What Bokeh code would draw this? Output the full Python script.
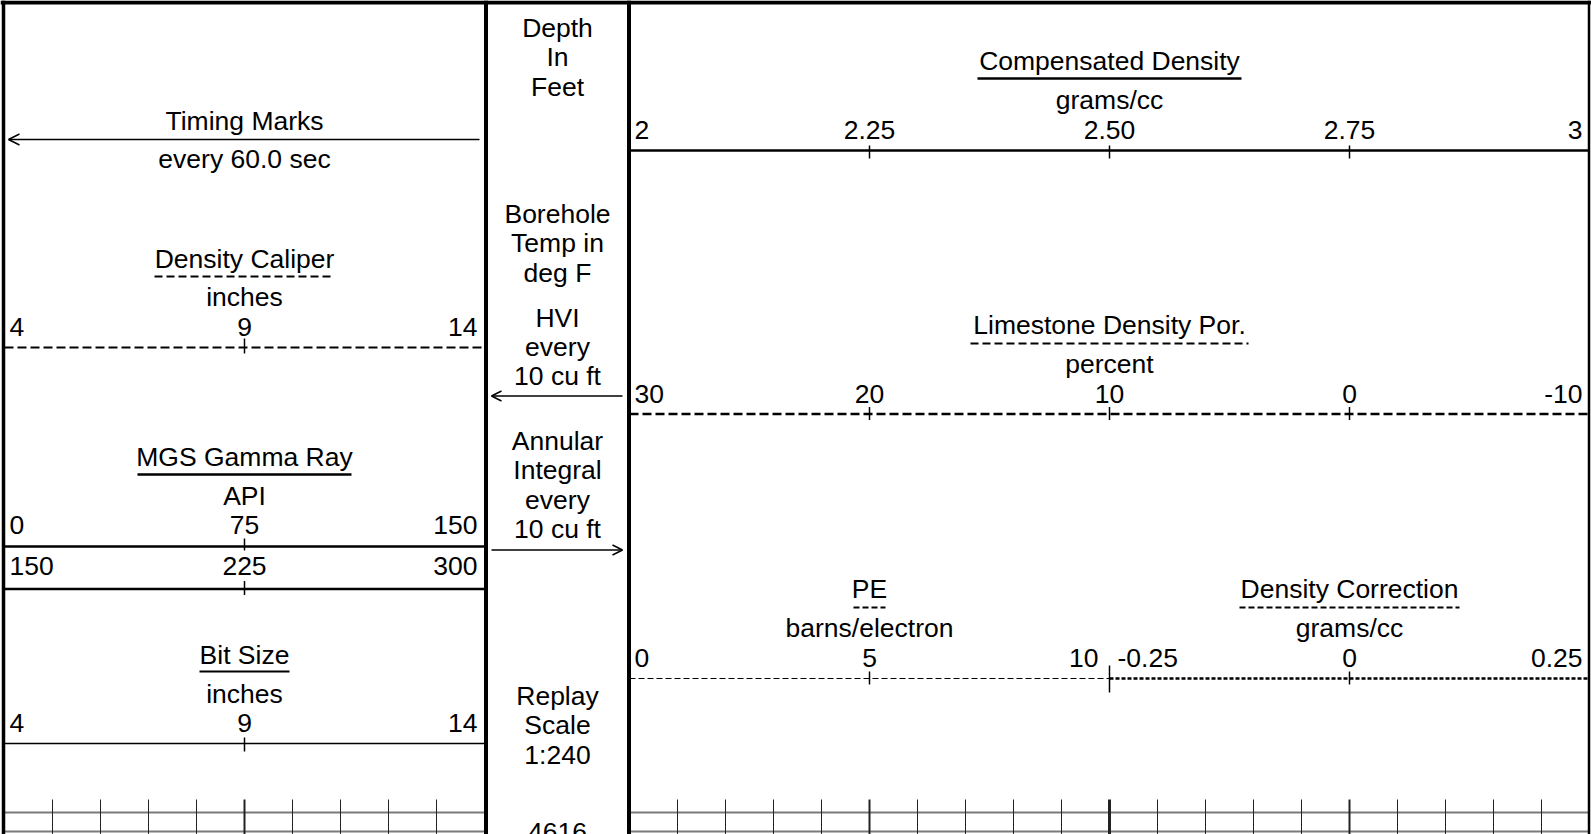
from bokeh.plotting import figure
from bokeh.models import Range1d, Arrow, OpenHead
from bokeh.core.properties import value
from bokeh.embed import file_html
from bokeh.resources import INLINE
import numpy as np

# ---------------- data ----------------
caliper_ticks = [4, 9, 14]
caliper_labels = ["4", "9", "14"]
gamma_ticks = [0, 75, 150]
gamma_labels = ["0", "75", "150"]
gamma_backup_ticks = [150, 225, 300]
gamma_backup_labels = ["150", "225", "300"]
bitsize_ticks = [4, 9, 14]
bitsize_labels = ["4", "9", "14"]
density_ticks = [2.0, 2.25, 2.50, 2.75, 3.0]
density_labels = ["2", "2.25", "2.50", "2.75", "3"]
porosity_ticks = [30, 20, 10, 0, -10]
porosity_labels = ["30", "20", "10", "0", "-10"]
pe_ticks = [0, 5, 10]
pe_labels = ["0", "5", "10"]
drho_ticks = [-0.25, 0.0, 0.25]
drho_labels = ["-0.25", "0", "0.25"]
depth_text = ["Depth", "In", "Feet"]
temp_text = ["Borehole", "Temp in", "deg F"]
hvi_text = ["HVI", "every", "10 cu ft"]
annular_text = ["Annular", "Integral", "every", "10 cu ft"]
replay_text = ["Replay", "Scale", "1:240"]
depth_value = "4616"

# ---------------- layout ----------------
W, H = 1591, 834
FONT = value("Liberation Sans")
FS = "26.5px"

L0, L1 = 4, 484        # left track
D0, D1 = 485.5, 628.5  # depth track (divider centres)
R0, R1 = 629, 1589     # right track
RM = 1109              # split of right track for PE / DRHO

p = figure(width=W, height=H, output_backend="svg", toolbar_location=None,
           x_range=Range1d(0, W), y_range=Range1d(H, 0),
           min_border=0, outline_line_color=None, background_fill_color="white",
           border_fill_color="white")
p.xaxis.visible = False
p.yaxis.visible = False
p.grid.visible = False

def rng(lo, hi, a, b):
    k = (hi - lo) / (b - a)
    return Range1d(lo - a * k, lo + (W - a) * k)

p.extra_x_ranges = {
    "cal": rng(caliper_ticks[0], caliper_ticks[-1], L0, L1),
    "gr": rng(gamma_ticks[0], gamma_ticks[-1], L0, L1),
    "grb": rng(gamma_backup_ticks[0], gamma_backup_ticks[-1], L0, L1),
    "bs": rng(bitsize_ticks[0], bitsize_ticks[-1], L0, L1),
    "den": rng(density_ticks[0], density_ticks[-1], R0, R1),
    "por": rng(porosity_ticks[0], porosity_ticks[-1], R0, R1),
    "pe": rng(pe_ticks[0], pe_ticks[-1], R0, RM),
    "drho": rng(drho_ticks[0], drho_ticks[-1], RM, R1),
}

def txt(x, y, s, align="center", xoff=0, rname="default"):
    p.text(x=[x], y=[y], text=[s], text_font=FONT, text_font_size=FS,
           text_align=align, text_baseline="middle", text_color="black",
           x_offset=xoff, y_offset=-1, x_range_name=rname)

def header(cx, y_title, title, y_unit, unit, y_ul, half, dash="solid", lw=2.0):
    txt(cx, y_title, title)
    p.segment(x0=[cx - half], x1=[cx + half], y0=[y_ul], y1=[y_ul],
              line_color="black", line_width=lw, line_dash=dash)
    txt(cx, y_unit, unit)

def scale(rname, ticks, labels, y_lab, y_line, dash="solid", lw=2.0,
          up=7, dn=7, first_off=5, last_off=-7):
    p.segment(x0=[ticks[0]], x1=[ticks[-1]], y0=[y_line], y1=[y_line],
              line_color="black", line_width=lw, line_dash=dash,
              x_range_name=rname)
    inner = ticks[1:-1]
    p.segment(x0=inner, x1=inner, y0=[y_line - up] * len(inner),
              y1=[y_line + dn] * len(inner), line_color="black", line_width=1.5,
              x_range_name=rname)
    txt(ticks[0], y_lab, labels[0], "left", first_off, rname)
    for t, s in zip(ticks[1:-1], labels[1:-1]):
        txt(t, y_lab, s, "center", 0, rname)
    txt(ticks[-1], y_lab, labels[-1], "right", last_off, rname)

LC = (L0 + L1) / 2
RC = (R0 + R1) / 2
DC = (D0 + D1) / 2

# ----- left track -----
txt(LC, 121, "Timing Marks")
p.add_layout(Arrow(end=OpenHead(size=11, line_width=1.5, line_color="black"),
                   x_start=L1 - 5, y_start=139, x_end=L0 + 4, y_end=139,
                   line_width=1.5, line_color="black"))
txt(LC, 159, "every 60.0 sec")

header(LC, 259, "Density Caliper", 297, "inches", 276, 90, dash="8 4", lw=2)
scale("cal", caliper_ticks, caliper_labels, 327, 347, dash="9 4", lw=2, up=9, dn=6)

header(LC, 457, "MGS Gamma Ray", 496, "API", 474, 107, lw=2.5)
scale("gr", gamma_ticks, gamma_labels, 525, 546, lw=2.5, up=8, dn=4)
scale("grb", gamma_backup_ticks, gamma_backup_labels, 566, 588.5, lw=2.5, up=8, dn=6)

header(LC, 655, "Bit Size", 694, "inches", 671, 45, lw=2)
scale("bs", bitsize_ticks, bitsize_labels, 723, 743, lw=1.5, up=6, dn=8)

# ----- depth track -----
for i, s in enumerate(depth_text):
    txt(DC, 28.5 + 29.4 * i, s)
for i, s in enumerate(temp_text):
    txt(DC, 214 + 29.5 * i, s)
for i, s in enumerate(hvi_text):
    txt(DC, 318 + 29.4 * i, s)
p.add_layout(Arrow(end=OpenHead(size=10, line_width=1.5, line_color="black"),
                   x_start=622, y_start=395.5, x_end=491, y_end=395.5,
                   line_width=1.5, line_color="black"))
for i, s in enumerate(annular_text):
    txt(DC, 441.5 + 29.4 * i, s)
p.add_layout(Arrow(end=OpenHead(size=10, line_width=1.5, line_color="black"),
                   x_start=491, y_start=549.5, x_end=622, y_end=549.5,
                   line_width=1.5, line_color="black"))
for i, s in enumerate(replay_text):
    txt(DC, 696 + 29.5 * i, s)
txt(DC, 832, depth_value)

# ----- right track -----
header(RC, 61, "Compensated Density", 100.5, "grams/cc", 78, 132, lw=2.5)
scale("den", density_ticks, density_labels, 130, 150, lw=2.5, up=5, dn=8)

header(RC, 325, "Limestone Density Por.", 364.5, "percent", 343, 139, dash="8 4", lw=2)
scale("por", porosity_ticks, porosity_labels, 394, 413.5, dash="9 4", lw=2.5, up=7, dn=6)

PEC = (R0 + RM) / 2
DRC = (RM + R1) / 2
header(PEC, 589, "PE", 628.5, "barns/electron", 607, 16, dash="6 3", lw=2)
header(DRC, 589, "Density Correction", 628.5, "grams/cc", 607, 110, dash="6 3", lw=2)
scale("pe", pe_ticks, pe_labels, 658, 678, dash="6 3", lw=1.2, up=7, dn=6, last_off=-11)
scale("drho", drho_ticks, drho_labels, 658, 678, dash="4 2", lw=2.6, up=7, dn=6, first_off=8)
p.segment(x0=[pe_ticks[-1]], x1=[pe_ticks[-1]], y0=[665], y1=[692],
          line_color="black", line_width=1.5, x_range_name="pe")

# ----- bottom grid -----
GY0, GY1, GY2 = 799, 812, 831
for y in (GY1, GY2):
    p.segment(x0=[L0, R0], x1=[L1, R1], y0=[y, y], y1=[y, y],
              line_color="#7a7a7a", line_width=2)
cal_grid = np.arange(caliper_ticks[0] + 1, caliper_ticks[-1], 1.0)
cal_w = [2.0 if abs(v - caliper_ticks[1]) < 1e-9 else 1.0 for v in cal_grid]
p.segment(x0=cal_grid, x1=cal_grid, y0=[GY0] * len(cal_grid), y1=[H] * len(cal_grid),
          line_color="#222222", line_width=cal_w, x_range_name="cal")
den_grid = np.round(np.arange(density_ticks[0] + 0.05, density_ticks[-1] - 0.01, 0.05), 2)
den_w = []
for v in den_grid:
    if abs(v - 2.5) < 1e-9:
        den_w.append(3.0)
    elif any(abs(v - t) < 1e-9 for t in density_ticks):
        den_w.append(2.0)
    else:
        den_w.append(1.0)
p.segment(x0=den_grid, x1=den_grid, y0=[GY0] * len(den_grid), y1=[H] * len(den_grid),
          line_color="#222222", line_width=den_w, x_range_name="den")

# ----- borders -----
p.segment(x0=[3, D0, D1, R1 - 0.5], x1=[3, D0, D1, R1 - 0.5], y0=[0] * 4, y1=[H] * 4,
          line_color="black", line_width=[3.5, 4, 4, 2.5])
p.segment(x0=[0], x1=[W], y0=[2], y1=[2], line_color="black", line_width=4)

open("out.html", "w").write(file_html(p, INLINE))
